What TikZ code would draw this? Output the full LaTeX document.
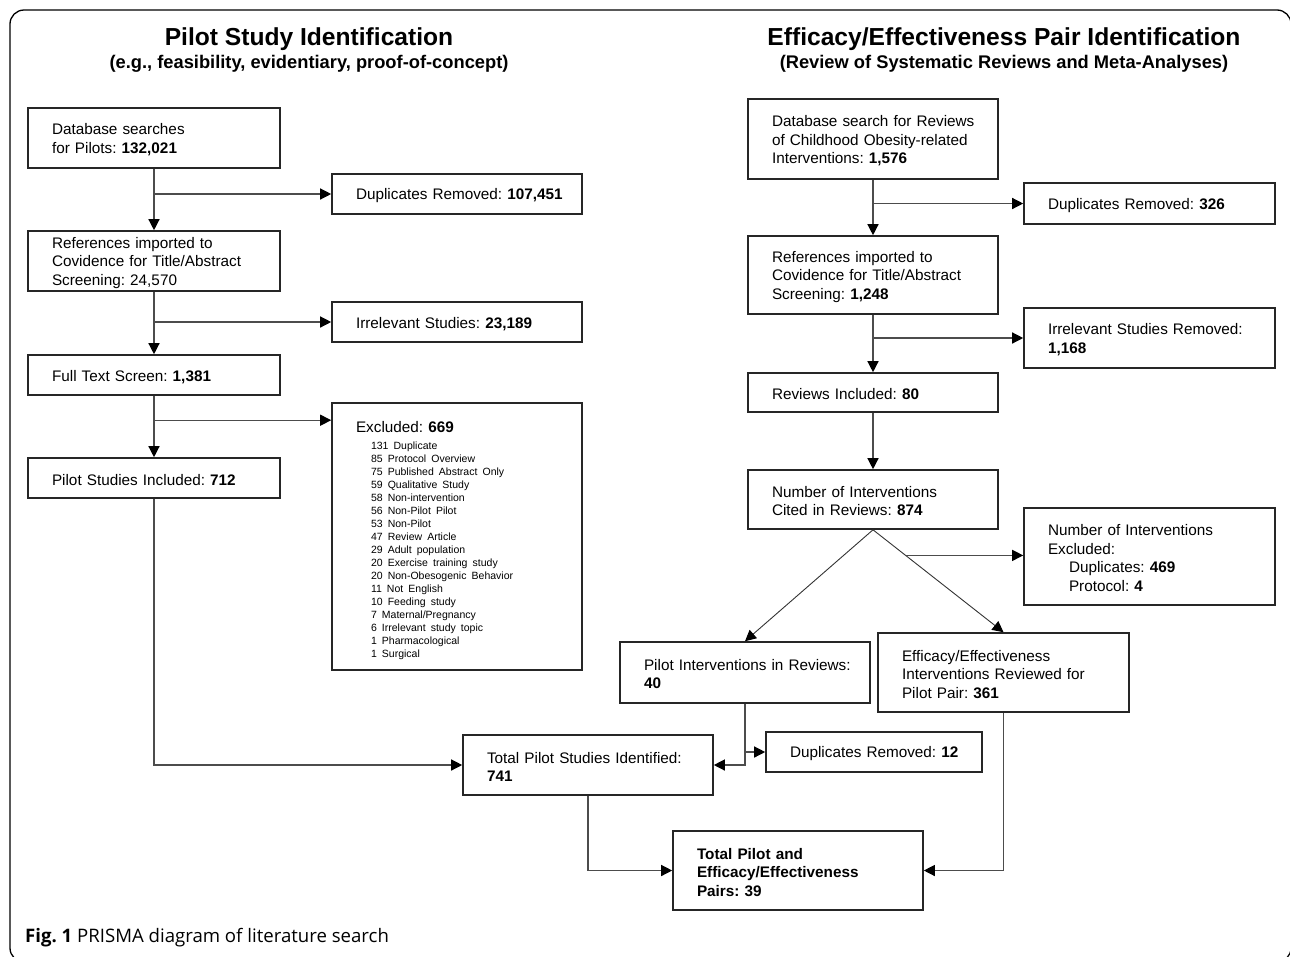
\documentclass[tikz,border=0pt]{standalone}
\usepackage{fontspec}
\setmainfont{Liberation Sans}
\newfontfamily\capfont{Open Sans}
\usetikzlibrary{arrows.meta}
\usetikzlibrary{calc}
\frenchspacing

\newcommand{\boxfont}{\fontsize{15.3}{18.5}\selectfont}
\newcommand{\listfont}{\fontsize{10.5}{13}\selectfont}

\begin{document}
\begin{tikzpicture}[x=1pt, y=-1pt, >={Triangle[length=11pt,width=11pt,color=black]},
    box/.style={draw=black!85, line width=1.6pt, align=left, inner xsep=24pt, inner ysep=0pt, font=\boxfont, text width=#1,
        execute at begin node={\rightskip=-10pt plus 1fil\rule{0pt}{14.5pt}}},
    box/.default=202pt,
    link/.style={draw=black!70, line width=1.3pt, ->},
    thinlink/.style={draw=black!80, line width=0.9pt, ->}]
        \useasboundingbox (0,0) rectangle (1290,956);
        \clip (0,0) rectangle (1290,956);
        \draw[line width=1.3pt, rounded corners=14pt] (10,10) rectangle (1291,962);

        % headings
        \node[font=\fontsize{24.6}{28}\selectfont\bfseries] (ltitle) at (309,39) {Pilot Study Identification};
        \node[font=\fontsize{18.3}{22}\selectfont\bfseries] (lsub) at (309,64) {(e.g., feasibility, evidentiary, proof-of-concept)};
        \node[font=\fontsize{24.6}{28}\selectfont\bfseries] (rtitle) at (1004,39) {Efficacy/Effectiveness Pair Identification};
        \node[font=\fontsize{18.3}{22}\selectfont\bfseries] (rsub) at (1004,64) {(Review of Systematic Reviews and Meta-Analyses)};

        % pilot side
        \node[box=204pt, minimum height=60pt] (srch) at (154,138) {Database searches\\for Pilots: \textbf{132,021}};
        \node[box, minimum height=40pt] (dup) at (457,194) {Duplicates Removed: \textbf{107,451}};
        \node[box=204pt, minimum height=60pt] (imp) at (154,261) {References imported to\\Covidence for Title/Abstract\\Screening: 24,570};
        \node[box, minimum height=40pt] (irr) at (457,322) {Irrelevant Studies: \textbf{23,189}};
        \node[box=204pt, minimum height=40pt] (full) at (154,375) {Full Text Screen: \textbf{1,381}};
        \node[box, minimum height=267pt] (excl) at (457,536.5) {\rule{0pt}{19pt}Excluded: \textbf{669}\\[-1.5pt]
            \hspace*{15pt}\parbox[t]{180pt}{\raggedright\listfont 131 Duplicate\\85 Protocol Overview\\75 Published Abstract Only\\59 Qualitative Study\\58 Non-intervention\\56 Non-Pilot Pilot\\53 Non-Pilot\\47 Review Article\\29 Adult population\\20 Exercise training study\\20 Non-Obesogenic Behavior\\11 Not English\\10 Feeding study\\7 Maternal/Pregnancy\\6 Irrelevant study topic\\1 Pharmacological\\1 Surgical}};
        \node[box=204pt, minimum height=40pt] (incl) at (154,478) {Pilot Studies Included: \textbf{712}};

        \draw[link] (srch) -- (imp);
        \draw[link] (srch.south |- dup) -- (dup);
        \draw[link] (imp) -- (full);
        \draw[link] (imp.south |- irr) -- (irr);
        \draw[link] (full) -- (incl);
        \coordinate (exctip) at ([yshift=-18pt]excl.north west);
        \draw[link] (full.south |- exctip) -- (exctip);

        % efficacy side
        \node[box, minimum height=80pt] (rsrch) at (873,139) {Database search for Reviews\\of Childhood Obesity-related\\Interventions: \textbf{1,576}};
        \node[box=203pt, minimum height=41pt] (rdup) at (1149.5,203.5) {Duplicates Removed: \textbf{326}};
        \node[box, minimum height=78pt] (rimp) at (873,275) {References imported to\\Covidence for Title/Abstract\\Screening: \textbf{1,248}};
        \node[box=203pt, minimum height=60pt] (rirr) at (1149.5,338) {Irrelevant Studies Removed:\\\textbf{1,168}};
        \node[box, minimum height=39pt] (rincl) at (873,392.5) {Reviews Included: \textbf{80}};
        \node[box, minimum height=59pt] (cited) at (873,499.5) {Number of Interventions\\Cited in Reviews: \textbf{874}};
        \node[box=203pt, minimum height=97pt] (intexc) at (1149.5,556.5) {Number of Interventions\\Excluded:\\\hspace*{21pt}Duplicates: \textbf{469}\\\hspace*{21pt}Protocol: \textbf{4}};
        \node[box, minimum height=61pt] (pint) at (745,672.5) {Pilot Interventions in Reviews:\\\textbf{40}};
        \node[box=203pt, minimum height=79pt] (eint) at (1003.5,672.5) {Efficacy/Effectiveness\\Interventions Reviewed for\\Pilot Pair: \textbf{361}};

        \draw[link] (rsrch) -- (rimp);
        \draw[link] (rsrch.south |- rdup) -- (rdup);
        \draw[link] (rimp) -- (rincl);
        \draw[link] (rimp.south |- rirr) -- (rirr);
        \draw[link] (rincl) -- (cited);
        \draw[thinlink] (cited.south) -- (pint.north);
        \draw[thinlink] (cited.south) -- (eint.north);
        \coordinate (split) at ($(cited.south)!0.25!(eint.north)$);
        \draw[link] (split) -- (split -| intexc.west);

        % totals
        \node[box, minimum height=60pt] (tpil) at (588,765) {Total Pilot Studies Identified:\\\textbf{741}};
        \node[box=168pt, minimum height=40pt] (pdup) at (874,752) {Duplicates Removed: \textbf{12}};
        \node[box, minimum height=79pt, font=\boxfont\bfseries] (pairs) at (798,870.5) {Total Pilot and\\Efficacy/Effectiveness\\Pairs: 39};

        \draw[link] (incl) |- (tpil);
        \draw[link] (pint) |- (tpil);
        \draw[link] (pint.south |- pdup) -- (pdup);
        \draw[link] (tpil) |- (pairs);
        \draw[link] (eint) |- (pairs);

        \node[anchor=west, inner sep=0pt, font=\capfont\fontsize{18.6}{22}\selectfont] (cap) at (25,938) {\textbf{Fig. 1} PRISMA diagram of literature search};
    \end{tikzpicture}
\end{document}
